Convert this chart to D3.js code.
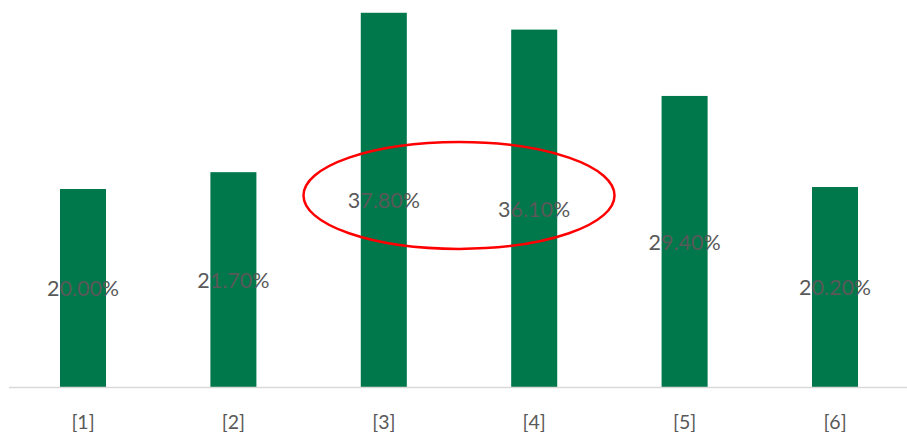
<!DOCTYPE html>
<html>
<head>
<meta charset="utf-8">
<script src="https://cdn.jsdelivr.net/npm/d3@7"></script>
<style>
  html, body { margin: 0; padding: 0; background: #fff; }
  svg { display: block; }
</style>
</head>
<body>
<svg id="chart" width="907" height="432"></svg>
<script>
const categories = ["[1]", "[2]", "[3]", "[4]", "[5]", "[6]"];
const values = [20.00, 21.70, 37.80, 36.10, 29.40, 20.20];
const highlighted = ["[3]", "[4]"];

const W = 907, H = 432;
const svg = d3.select("#chart");

const x = d3.scaleBand()
  .domain(categories)
  .range([7.8, 910.2])
  .paddingInner(0.694)
  .paddingOuter(0.347);

const y = d3.scaleLinear()
  .domain([0, 40])
  .range([387, -9]);

// bars
svg.append("g").selectAll("rect")
  .data(values)
  .join("rect")
  .attr("x", (d, i) => x(categories[i]))
  .attr("y", d => y(d))
  .attr("width", x.bandwidth())
  .attr("height", d => y(0) - y(d))
  .attr("fill", "#00784C");

// axis
const axis = d3.axisBottom(x).tickSize(0).tickPadding(28);
const gx = svg.append("g")
  .attr("transform", `translate(0,${y(0)})`)
  .call(axis);
gx.select(".domain").remove();
gx.selectAll("text")
  .attr("font-family", "Lato, 'Open Sans', sans-serif")
  .attr("font-size", 19.5)
  .attr("fill", "#595959");
svg.append("line")
  .attr("x1", 9).attr("x2", 907)
  .attr("y1", y(0) + 0.5).attr("y2", y(0) + 0.5)
  .attr("stroke", "#d9d9d9")
  .attr("stroke-width", 1.5);

// value labels
svg.append("g").selectAll("text")
  .data(values)
  .join("text")
  .attr("x", (d, i) => x(categories[i]) + x.bandwidth() / 2)
  .attr("y", d => (y(d) + y(0)) / 2 + 3)
  .attr("text-anchor", "middle")
  .attr("dominant-baseline", "middle")
  .attr("font-family", "Lato, 'Open Sans', sans-serif")
  .attr("font-size", 21.5)
  .attr("fill", "#595959")
  .text(d => d.toFixed(2) + "%");

// highlight ellipse around [3] and [4]
const c1 = x(highlighted[0]) + x.bandwidth() / 2;
const c2 = x(highlighted[1]) + x.bandwidth() / 2;
svg.append("ellipse")
  .attr("cx", (c1 + c2) / 2)
  .attr("cy", y(19.35))
  .attr("rx", x.step() * 1.034)
  .attr("ry", y(0) - y(5.4))
  .attr("fill", "none")
  .attr("stroke", "#ff0000")
  .attr("stroke-width", 2.5);
</script>
</body>
</html>
